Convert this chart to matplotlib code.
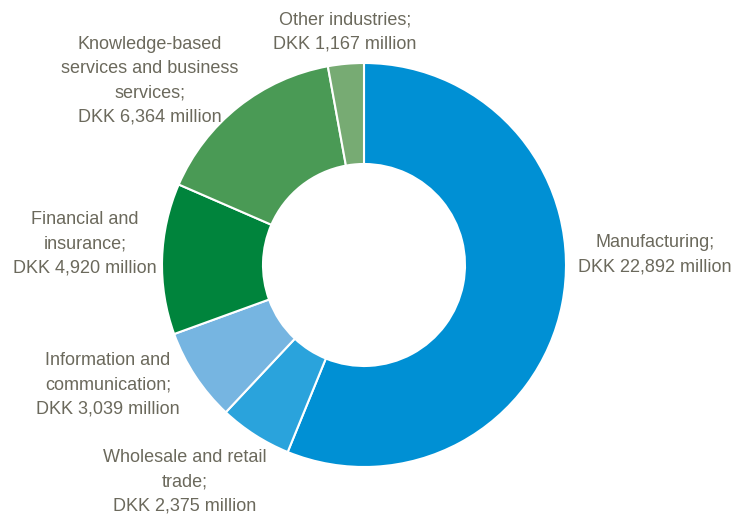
import matplotlib.pyplot as plt

sectors = [
    "Manufacturing",
    "Wholesale and retail\ntrade",
    "Information and\ncommunication",
    "Financial and\ninsurance",
    "Knowledge-based\nservices and business\nservices",
    "Other industries",
]
values_dkk_m = [22892, 2375, 3039, 4920, 6364, 1167]
colors = ["#0090d4", "#2aa3dc", "#76b5e1", "#00843c", "#4a9a55", "#77ab73"]

# label anchor points (pixels from top-left)
label_pos = [(655, 255), (185, 482), (108, 385), (85, 244), (150, 81), (345, 32)]

plt.rcParams["font.family"] = ["Liberation Sans Narrow", "Liberation Sans", "DejaVu Sans"]

W, H = 731, 515
fig = plt.figure(figsize=(W / 100, H / 100), dpi=100)
ax = fig.add_axes([0, 0, 1, 1])

cx, cy, r = 364, H - 265, 202
ax.pie(values_dkk_m, colors=colors, startangle=90, counterclock=False,
       center=(cx, cy), radius=r, frame=True,
       wedgeprops=dict(width=r / 2, edgecolor="white", linewidth=1.5))
ax.set_xlim(0, W)
ax.set_ylim(0, H)
ax.set_aspect("equal")
ax.axis("off")

for name, val, (x, y) in zip(sectors, values_dkk_m, label_pos):
    ax.text(x, H - y, f"{name};\nDKK {val:,} million", ha="center", va="center",
            fontsize=13, color="#6b695c", linespacing=1.55)

fig.savefig("out.png", dpi=100)
